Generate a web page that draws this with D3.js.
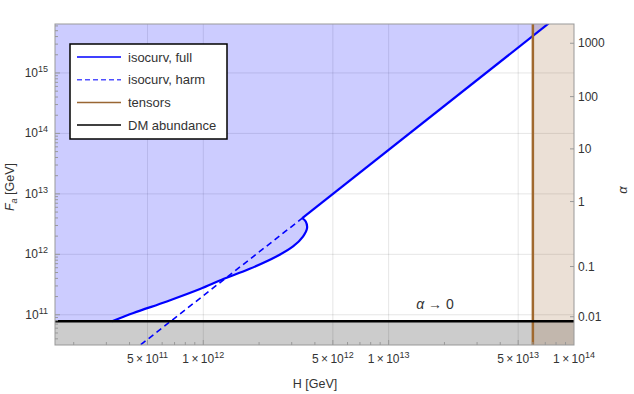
<!DOCTYPE html>
<html>
<head>
<meta charset="utf-8">
<script src="https://cdn.jsdelivr.net/npm/d3@7"></script>
<style>
  body { margin: 0; background: #fff; }
  text { font-family: "Liberation Sans", Arial, sans-serif; fill: #333; }
</style>
</head>
<body>
<svg id="chart" width="634" height="394"></svg>
<script>
// values
var isoFull = [
    [3.22e11, 7.8e10], [4.2e11, 1.07e11], [6.36e11, 1.66e11], [9.6e11, 2.66e11],
    [1.257e12, 3.79e11], [1.78e12, 5.75e11], [2.48e12, 9.2e11], [3.05e12, 1.35e12],
    [3.45e12, 1.97e12], [3.63e12, 2.71e12], [3.57e12, 3.49e12], [3.42e12, 3.96e12]
];
var isoFullUpper = [[3.42e12, 3.96e12], [7.3e13, 6.6e15]];
var isoHarm = [[4.6e11, 3.2e10], [3.42e12, 3.96e12]];
var tensorH = 6.0e13;
var dmFa = 7.8e10;

var xTickLabels = [[5e11, "5", "11"], [1e12, "1", "12"], [5e12, "5", "12"],
                   [1e13, "1", "13"], [5e13, "5", "13"], [1e14, "1", "14"]];
var yTickPowers = [11, 12, 13, 14, 15];
var alphaLabels = ["1000", "100", "10", "1", "0.1", "0.01"];
var alphaFa = [3.1e15, 4.06e14, 5.55e13, 7.46e12, 6.28e11, 9.27e10];

var legendItems = [
    { label: "isocurv, full", color: "#0000ff", dash: null },
    { label: "isocurv, harm", color: "#5050ff", dash: "5,3" },
    { label: "tensors", color: "#996633", dash: null },
    { label: "DM abundance", color: "#000", dash: null }
];

var margin = { top: 24, right: 60, bottom: 49, left: 55 },
    width = 634 - margin.left - margin.right,
    height = 394 - margin.top - margin.bottom;

var svg = d3.select("#chart");
var g = svg.append("g").attr("transform", "translate(" + margin.left + "," + margin.top + ")");

var x = d3.scaleLog().domain([Math.pow(10, 11.2), 1e14]).range([0, width]);
var y = d3.scaleLog().domain([Math.pow(10, 10.5), Math.pow(10, 15.81)]).range([height, 0]);

svg.append("defs").append("clipPath").attr("id", "clip")
    .append("rect").attr("width", width).attr("height", height);

var plot = g.append("g").attr("clip-path", "url(#clip)");

// gridlines
plot.selectAll(".gx").data(xTickLabels.slice(0, 5)).enter().append("line")
    .attr("x1", d => x(d[0])).attr("x2", d => x(d[0]))
    .attr("y1", 0).attr("y2", height)
    .attr("stroke", "#000").attr("stroke-opacity", 0.1);
plot.selectAll(".gy").data(yTickPowers).enter().append("line")
    .attr("x1", 0).attr("x2", width)
    .attr("y1", d => y(Math.pow(10, d))).attr("y2", d => y(Math.pow(10, d)))
    .attr("stroke", "#000").attr("stroke-opacity", 0.1);

var yTop = y.domain()[1], yBottom = y.domain()[0], xLeft = x.domain()[0], xRight = x.domain()[1];

var line = d3.line().x(d => x(d[0])).y(d => y(d[1]));
var smooth = d3.line().curve(d3.curveCatmullRom).x(d => x(d[0])).y(d => y(d[1]));

// allowed region above the isocurvature bound
var lastPt = isoFullUpper[isoFullUpper.length - 1];
var blueRegion = [[xLeft, yTop * 2], [xLeft, dmFa]].concat(isoFull).concat(isoFullUpper.slice(1))
    .concat([[lastPt[0], yTop * 2]]);
plot.append("path").attr("d", line(blueRegion) + "Z")
    .attr("fill", "#0000ff").attr("fill-opacity", 0.2);

// DM overproduced region
plot.append("rect")
    .attr("x", 0).attr("y", y(dmFa)).attr("width", width).attr("height", height - y(dmFa))
    .attr("fill", "#000").attr("fill-opacity", 0.2);

// tensors region
plot.append("rect")
    .attr("x", x(tensorH)).attr("y", 0).attr("width", width - x(tensorH)).attr("height", height)
    .attr("fill", "#996633").attr("fill-opacity", 0.2);

plot.append("path").attr("d", line(isoHarm))
    .attr("fill", "none").attr("stroke", "#0000ff").attr("stroke-width", 1.6)
    .attr("stroke-dasharray", "6,4");
plot.append("path").attr("d", smooth(isoFull))
    .attr("fill", "none").attr("stroke", "#0000ff").attr("stroke-width", 2.2);
plot.append("path").attr("d", line(isoFullUpper))
    .attr("fill", "none").attr("stroke", "#0000ff").attr("stroke-width", 2.2);

plot.append("line")
    .attr("x1", x(tensorH)).attr("x2", x(tensorH)).attr("y1", 0).attr("y2", height)
    .attr("stroke", "#a0692f").attr("stroke-width", 2.5);
plot.append("line")
    .attr("x1", 0).attr("x2", width).attr("y1", y(dmFa)).attr("y2", y(dmFa))
    .attr("stroke", "#000").attr("stroke-width", 2.5);

// frame
g.append("rect").attr("width", width).attr("height", height)
    .attr("fill", "none").attr("stroke", "#999").attr("stroke-width", 1);

// bottom ticks
var xMinor = [];
for (var p = 11; p < 14; p++) for (var k = 1; k < 10; k++) {
    var v = k * Math.pow(10, p);
    if (v >= xLeft && v <= xRight) xMinor.push(v);
}
g.selectAll(".xt").data(xMinor).enter().append("line")
    .attr("x1", d => x(d)).attr("x2", d => x(d))
    .attr("y1", height)
    .attr("y2", d => height - (xTickLabels.some(t => Math.abs(t[0] - d) / d < 1e-6) ? 5 : 3))
    .attr("stroke", "#999");

var xl = g.selectAll(".xl").data(xTickLabels).enter().append("text")
    .attr("x", d => x(d[0])).attr("y", height + 18)
    .attr("text-anchor", "middle").style("font-size", "12px");
xl.append("tspan").text(d => d[1] + "\u2009\u00d7\u200910");
xl.append("tspan").attr("dy", -5).style("font-size", "9px").text(d => d[2]);

// left ticks
var yMinor = [];
for (var p = 10; p < 16; p++) for (var k = 1; k < 10; k++) {
    var v = k * Math.pow(10, p);
    if (v >= yBottom && v <= yTop) yMinor.push(v);
}
g.selectAll(".yt").data(yMinor).enter().append("line")
    .attr("x1", 0).attr("y1", d => y(d)).attr("y2", d => y(d))
    .attr("x2", d => (Math.abs(Math.log10(d) - Math.round(Math.log10(d))) < 1e-9 ? 5 : 3))
    .attr("stroke", "#999");

var yl = g.selectAll(".yl").data(yTickPowers).enter().append("text")
    .attr("x", -7).attr("y", d => y(Math.pow(10, d)) + 4)
    .attr("text-anchor", "end").style("font-size", "12px");
yl.append("tspan").text("10");
yl.append("tspan").attr("dy", -5).style("font-size", "9px").text(d => d);

// right alpha ticks
g.selectAll(".at").data(alphaFa).enter().append("line")
    .attr("x1", width - 4).attr("x2", width)
    .attr("y1", d => y(d)).attr("y2", d => y(d))
    .attr("stroke", "#999");
g.selectAll(".al").data(alphaLabels).enter().append("text")
    .attr("x", width + 4).attr("y", (d, i) => y(alphaFa[i]) + 4)
    .style("font-size", "12px").text(d => d);

// axis titles
g.append("text").attr("x", 260).attr("y", height + 43)
    .attr("text-anchor", "middle").style("font-size", "12.5px").text("H [GeV]");
var yt = svg.append("text").attr("transform", "translate(14,187) rotate(-90)")
    .attr("text-anchor", "middle").style("font-size", "12.5px");
yt.append("tspan").style("font-style", "italic").text("F");
yt.append("tspan").attr("dy", 3).style("font-size", "9px").style("font-style", "italic").text("a");
yt.append("tspan").attr("dy", -3).text(" [GeV]");
svg.append("text").attr("transform", "translate(627,190) rotate(-90)")
    .attr("text-anchor", "middle").style("font-size", "13px").style("font-style", "italic").text("\u03b1");

var lab = g.append("text").attr("x", 380).attr("y", 285)
    .attr("text-anchor", "middle").style("font-size", "14px");
lab.append("tspan").style("font-style", "italic").text("\u03b1");
lab.append("tspan").text(" \u2192 0");

// legend
var lg = g.append("g").attr("transform", "translate(15,20)");
lg.append("rect").attr("width", 157).attr("height", 95)
    .attr("fill", "#fff").attr("stroke", "#000").attr("stroke-width", 1.5);
var li = lg.selectAll(".li").data(legendItems).enter().append("g")
    .attr("transform", (d, i) => "translate(7," + (13 + i * 22.7) + ")");
li.append("line").attr("x1", 0).attr("x2", 44)
    .attr("stroke", d => d.color).attr("stroke-width", 1.5)
    .attr("stroke-dasharray", d => d.dash);
li.append("text").attr("x", 51).attr("y", 4.5).style("font-size", "13px").text(d => d.label);
</script>
</body>
</html>
